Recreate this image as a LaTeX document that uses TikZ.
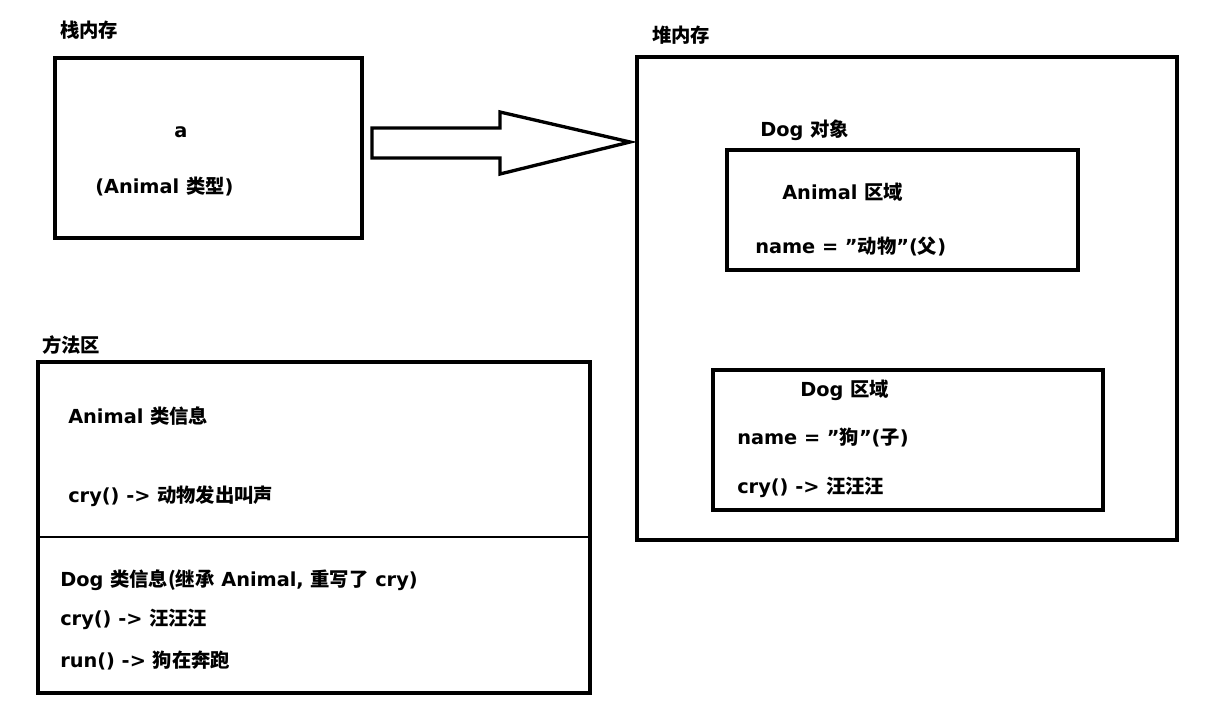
\documentclass[tikz,border=0pt]{standalone}
\usepackage{fontspec}
\setmainfont{DejaVu Sans}
\newfontfamily\cjkf{Noto Sans CJK SC}
\newcommand{\cj}[1]{{\cjkf\bfseries #1}}
\begin{document}
\begin{tikzpicture}[x=0.75pt,y=-0.75pt,
  box/.style={line width=3pt},
  lbl/.style={anchor=west,inner sep=0pt,font=\fontsize{14.5}{16}\selectfont\bfseries}]
\useasboundingbox (0,0) rectangle (1211,722);
\fill[white] (0,0) rectangle (1211,722);
% stack
\node[lbl] (st) at (60,30) {\cj{栈内存}};
\draw[box] (55,58) rectangle (362,238);
\node[lbl,anchor=center] (a) at (181,132) {a};
\node[lbl] (at) at (95,187) {(Animal \cj{类型})};
% arrow
\draw[line width=2.5pt,line join=miter] (372,128) -- (500,128) -- (500,112) -- (630,142) -- (500,174) -- (500,158) -- (372,158) -- cycle;
% heap
\node[lbl] (hp) at (652,35) {\cj{堆内存}};
\draw[box] (637,57) rectangle (1177,540);
\node[lbl] (dobj) at (760,130) {Dog \cj{对象}};
\draw[box] (727,150) rectangle (1078,270);
\node[lbl] (ar) at (782,192) {Animal \cj{区域}};
\node[lbl] (an) at (755,246) {name = "\cj{动物}"(\cj{父})};
\draw[box] (713,370) rectangle (1103,510);
\node[lbl] (dr) at (800,390) {Dog \cj{区域}};
\node[lbl] (dn) at (737,437) {name = "\cj{狗}"(\cj{子})};
\node[lbl] (dc) at (737,487) {cry() -> \cj{汪汪汪}};
% method area
\node[lbl] (ma) at (42,345) {\cj{方法区}};
\draw[box] (38,362) rectangle (590,693);
\draw[line width=1.5pt] (38,537) -- (590,537);
\node[lbl] (ai) at (68,416) {Animal \cj{类信息}};
\node[lbl] (ac) at (68,496) {cry() -> \cj{动物发出叫声}};
\node[lbl] (di) at (60,580) {Dog \cj{类信息(继承} Animal, \cj{重写了} cry)};
\node[lbl] (dcy) at (60,619) {cry() -> \cj{汪汪汪}};
\node[lbl] (drn) at (60,660) {run() -> \cj{狗在奔跑}};
\end{tikzpicture}
\end{document}
